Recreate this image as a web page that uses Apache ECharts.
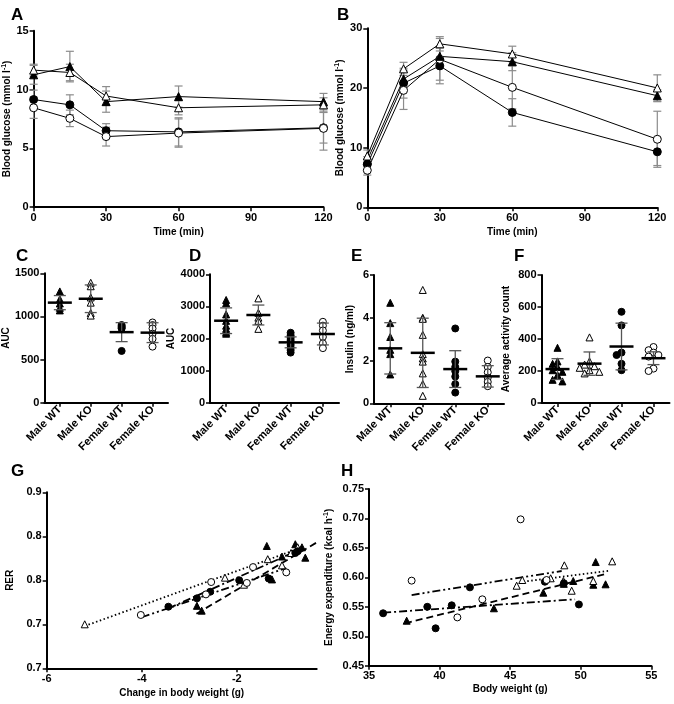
<!DOCTYPE html>
<html>
<head>
<meta charset="utf-8">
<title>Glucose, AUC, insulin, activity, RER and EE panels</title>
<script src="https://cdn.jsdelivr.net/npm/echarts@6/dist/echarts.min.js"></script>
<style>
  html, body { margin: 0; padding: 0; background: #fff; }
  #chart { width: 674px; height: 704px; }
</style>
</head>
<body>
<div id="chart"></div>
<script>
// ---- data ----
var times = [0, 15, 30, 60, 120];
var groups = ['Male WT', 'Male KO', 'Female WT', 'Female KO'];

// A: blood glucose, mean and SD
var aMaleWT = [11.25, 11.95, 8.97, 9.4, 8.97];
var aMaleWTsd = [0.8, 1.3, 0.9, 0.9, 0.7];
var aMaleKO = [11.65, 11.45, 9.45, 8.45, 8.7];
var aMaleKOsd = [0.5, 0.7, 0.8, 0.6, 0.6];
var aFemaleWT = [9.15, 8.7, 6.5, 6.4, 6.75];
var aFemaleWTsd = [0.8, 0.85, 0.6, 1.2, 1.3];
var aFemaleKO = [8.45, 7.55, 6.0, 6.3, 6.7];
var aFemaleKOsd = [0.9, 0.7, 0.8, 1.2, 1.85];

// B: blood glucose, mean and SD
var bMaleWT = [7.9, 21.5, 25.3, 24.4, 18.7];
var bMaleWTsd = [0.6, 1.5, 1.5, 1.5, 1.0];
var bMaleKO = [8.6, 23.2, 27.4, 25.7, 20.0];
var bMaleKOsd = [1.0, 1.1, 1.2, 1.3, 2.2];
var bFemaleWT = [7.2, 20.8, 23.7, 15.9, 9.3];
var bFemaleWTsd = [1.0, 2.5, 3.0, 2.3, 2.3];
var bFemaleKO = [6.2, 19.6, 24.8, 20.1, 11.4];
var bFemaleKOsd = [0.8, 3.2, 3.5, 3.6, 4.7];

// C: AUC
var cMaleWT = [1290, 1200, 1150, 1100, 1070];
var cMaleKO = [1390, 1350, 1220, 1160, 1040, 1010];
var cFemaleWT = [900, 885, 870, 860, 600];
var cFemaleKO = [930, 900, 860, 800, 740, 650];
var cMean = [1160, 1205, 818, 812];
var cSd = [82, 160, 110, 115];

// D: AUC
var dMaleWT = [3200, 3100, 2750, 2550, 2400, 2300, 2200, 2150];
var dMaleKO = [3250, 2800, 2650, 2550, 2300];
var dFemaleWT = [2180, 2100, 2020, 1950, 1880, 1800, 1720, 1640, 1560];
var dFemaleKO = [2520, 2400, 2250, 2050, 1850, 1700];
var dMean = [2554, 2732, 1880, 2140];
var dSd = [400, 310, 170, 340];

// E: insulin
var eMaleWT = [4.7, 3.75, 3.1, 2.5, 2.3, 1.35];
var eMaleKO = [5.3, 4.0, 3.95, 3.2, 2.3, 2.1, 1.95, 1.4, 0.9, 0.35];
var eFemaleWT = [3.5, 1.95, 1.7, 1.5, 1.25, 0.9, 0.5];
var eFemaleKO = [2.0, 1.7, 1.45, 1.2, 1.0, 0.8];
var eMean = [2.57, 2.36, 1.6, 1.26];
var eSd = [1.2, 1.62, 0.86, 0.5];

// F: activity
var fMaleWT = [345, 260, 245, 225, 205, 195, 175, 145, 135];
var fMaleKO = [410, 260, 240, 230, 220, 205, 195, 185];
var fFemaleWT = [570, 485, 315, 300, 245, 205];
var fFemaleKO = [350, 330, 315, 300, 290, 215, 200];
var fMean = [212, 246, 353, 280];
var fSd = [65, 73, 146, 40];

// G: RER vs change in body weight
var gMaleWT = [[-2.84, 0.771], [-2.74, 0.7655], [-1.37, 0.839], [-1.26, 0.801], [-1.05, 0.827], [-0.77, 0.841], [-0.63, 0.8375], [-0.56, 0.8257]];
var gMaleKO = [[-5.2, 0.75], [-2.25, 0.803], [-1.85, 0.795], [-1.35, 0.824], [-1.05, 0.817], [-0.86, 0.831], [-0.72, 0.8375]];
var gFemaleWT = [[-3.44, 0.770], [-2.84, 0.7795], [-2.56, 0.787], [-1.95, 0.800], [-1.33, 0.802], [-0.77, 0.831], [-0.72, 0.833]];
var gFemaleKO = [[-4.02, 0.7606], [-2.54, 0.798], [-2.65, 0.784], [-1.66, 0.815], [-1.79, 0.797], [-0.96, 0.809]];
var gFitMaleWT = [[-2.85, 0.762], [-0.32, 0.843]];
var gFitMaleKO = [[-5.2, 0.748], [-0.75, 0.835]];
var gFitFemaleWT = [[-3.44, 0.768], [-0.75, 0.833]];
var gFitFemaleKO = [[-4.0, 0.758], [-0.96, 0.814]];
var gTicksX = [-6, -4, -2];
var gTicksY = [0.7, 0.75, 0.8, 0.85, 0.9];
var gTickLabelsY = ['0.7', '0.7', '0.8', '0.8', '0.9'];

// H: energy expenditure vs body weight
var hMaleWT = [[37.67, 0.5264], [43.85, 0.5475], [47.35, 0.574], [48.8, 0.589], [49.47, 0.5938], [50.89, 0.5875], [51.06, 0.626], [51.76, 0.5882]];
var hMaleKO = [[45.46, 0.5858], [45.86, 0.5955], [47.87, 0.5984], [48.84, 0.6204], [48.77, 0.5938], [49.36, 0.5773], [50.89, 0.5938], [52.23, 0.6272]];
var hFemaleWT = [[36.0, 0.539], [39.13, 0.550], [39.72, 0.5135], [40.86, 0.5525], [42.15, 0.583], [47.46, 0.5926], [48.81, 0.590], [49.87, 0.554]];
var hFemaleKO = [[38.02, 0.5944], [41.26, 0.532], [43.03, 0.5627], [45.74, 0.6985], [47.58, 0.5955]];
var hFitMaleWT = [[37.55, 0.522], [51.76, 0.6057]];
var hFitMaleKO = [[45.93, 0.5926], [52.07, 0.6113]];
var hFitFemaleWT = [[36.0, 0.540], [49.6, 0.5627]];
var hFitFemaleKO = [[38.02, 0.570], [48.65, 0.6108]];

// ---- styling ----
var FONT = '"Liberation Sans", Arial, sans-serif';
var SYM = ['triangle', 'triangle', 'circle', 'circle'];
var FILL = ['#000', '#fff', '#000', '#fff'];
var DASH = [[7, 4], [1.5, 2.5], [8, 3, 2, 3], [8, 3, 2, 3, 2, 3]];

var grids = [
  { left: 33.5, top: 30.7, width: 290, height: 176.5 },
  { left: 367.3, top: 28.3, width: 290, height: 179 },
  { left: 40, top: 273.3, width: 128, height: 129.4 },
  { left: 210, top: 274.3, width: 129, height: 128.4 },
  { left: 374, top: 275, width: 130, height: 128.3 },
  { left: 541.5, top: 275, width: 128, height: 128 },
  { left: 46.7, top: 492.3, width: 270, height: 176 },
  { left: 369, top: 489, width: 282.3, height: 176.7 }
];

var txt = { color: '#000', fontFamily: FONT, fontWeight: 'bold', fontSize: 11 };
var nameTxt = { color: '#000', fontFamily: FONT, fontWeight: 'bold', fontSize: 10 };
var supRich = { sup: { color: '#000', fontFamily: FONT, fontWeight: 'bold', fontSize: 7, padding: [0, 0, 6, 0] } };

function plain(v) { return String(v); }

function axis(idx, o) {
  var a = {
    gridIndex: idx,
    axisLine: { show: true, onZero: false, lineStyle: { color: '#000', width: 2 } },
    axisTick: { show: true, length: 4, lineStyle: { color: '#000', width: 1.5 } },
    axisLabel: Object.assign({ margin: 5, formatter: plain }, txt),
    splitLine: { show: false },
    nameLocation: 'middle',
    nameTextStyle: Object.assign({ rich: supRich }, nameTxt)
  };
  for (var k in o) {
    if (k === 'axisLabel' || k === 'axisTick') a[k] = Object.assign({}, a[k], o[k]);
    else a[k] = o[k];
  }
  return a;
}

function pairs(xs, ys) { return xs.map(function (x, i) { return [x, ys[i]]; }); }

function errorBars(idx, means, sds) {
  return {
    type: 'custom', xAxisIndex: idx, yAxisIndex: idx, z: 1, silent: true,
    encode: { x: 0, y: 1 },
    data: times.map(function (t, i) { return [t, means[i], sds[i]]; }),
    renderItem: function (p, api) {
      var x = api.value(0), m = api.value(1), s = api.value(2);
      var hi = api.coord([x, m + s]), lo = api.coord([x, m - s]);
      var st = { stroke: '#8c8c8c', lineWidth: 1.2 };
      return { type: 'group', children: [
        { type: 'line', shape: { x1: hi[0], y1: hi[1], x2: lo[0], y2: lo[1] }, style: st },
        { type: 'line', shape: { x1: hi[0] - 4, y1: hi[1], x2: hi[0] + 4, y2: hi[1] }, style: st },
        { type: 'line', shape: { x1: lo[0] - 4, y1: lo[1], x2: lo[0] + 4, y2: lo[1] }, style: st }
      ] };
    }
  };
}

function curve(idx, g, means) {
  return {
    type: 'line', xAxisIndex: idx, yAxisIndex: idx, z: 3,
    data: pairs(times, means),
    symbol: SYM[g], symbolSize: 8,
    lineStyle: { color: '#000', width: 1 },
    itemStyle: { color: FILL[g], borderColor: '#000', borderWidth: 1 }
  };
}

// spread overlapping points sideways, like the dot plot in F
function swarm(vals, pxPerUnit, size) {
  var placed = [];
  var slots = [0, -1, 1, -2, 2, -3, 3];
  return vals.map(function (v) {
    for (var k = 0; k < slots.length; k++) {
      var dx = slots[k] * size * 0.7;
      var clash = placed.some(function (p) {
        var ddx = p.dx - dx, ddy = (p.v - v) * pxPerUnit;
        return Math.sqrt(ddx * ddx + ddy * ddy) < size * 0.75;
      });
      if (!clash) { placed.push({ v: v, dx: dx }); return dx; }
    }
    return 0;
  });
}

function dots(idx, sets, pxPerUnit) {
  return sets.map(function (vals, g) {
    var offs = pxPerUnit ? swarm(vals, pxPerUnit, 7) : vals.map(function () { return 0; });
    return {
      type: 'scatter', xAxisIndex: idx, yAxisIndex: idx, z: 3,
      symbol: SYM[g], symbolSize: 7,
      itemStyle: { color: FILL[g], borderColor: '#000', borderWidth: 1, opacity: 1 },
      data: vals.map(function (v, i) { return { value: [g, v], symbolOffset: [offs[i], 0] }; })
    };
  });
}

function meanSd(idx, means, sds) {
  return {
    type: 'custom', xAxisIndex: idx, yAxisIndex: idx, z: 4, silent: true,
    encode: { x: 0, y: 1 },
    data: means.map(function (m, g) { return [g, m, sds[g]]; }),
    renderItem: function (p, api) {
      var g = api.value(0), m = api.value(1), s = api.value(2);
      var c = api.coord([g, m]), hi = api.coord([g, m + s]), lo = api.coord([g, m - s]);
      var sd = { stroke: '#555', lineWidth: 1.3 };
      return { type: 'group', children: [
        { type: 'line', shape: { x1: hi[0], y1: hi[1], x2: lo[0], y2: lo[1] }, style: sd },
        { type: 'line', shape: { x1: hi[0] - 6, y1: hi[1], x2: hi[0] + 6, y2: hi[1] }, style: sd },
        { type: 'line', shape: { x1: lo[0] - 6, y1: lo[1], x2: lo[0] + 6, y2: lo[1] }, style: sd },
        { type: 'line', shape: { x1: c[0] - 12, y1: c[1], x2: c[0] + 12, y2: c[1] }, style: { stroke: '#000', lineWidth: 2.5 } }
      ] };
    }
  };
}

function points(idx, g, data) {
  return {
    type: 'scatter', xAxisIndex: idx, yAxisIndex: idx, z: 3,
    symbol: SYM[g], symbolSize: 7,
    itemStyle: { color: FILL[g], borderColor: '#000', borderWidth: 1, opacity: 1 },
    data: data
  };
}

function fit(idx, g, data) {
  return {
    type: 'line', xAxisIndex: idx, yAxisIndex: idx, z: 2, silent: true,
    data: data, symbol: 'none',
    lineStyle: { color: '#000', width: 1.8, type: DASH[g] }
  };
}

var catAxis = { type: 'category', data: groups, axisTick: { alignWithLabel: true },
  axisLabel: { rotate: 45, interval: 0, margin: 5, formatter: null } };

function titleAt(t, x, y) {
  return { text: t, left: x, top: y, textStyle: { color: '#000', fontFamily: FONT, fontWeight: 'bold', fontSize: 17 } };
}

var option = {
  animation: false,
  backgroundColor: '#fff',
  title: [
    titleAt('A', 6, 2), titleAt('B', 332, 2),
    titleAt('C', 11, 243), titleAt('D', 184, 243),
    titleAt('E', 346, 243), titleAt('F', 509, 243),
    titleAt('G', 6, 458), titleAt('H', 336, 458)
  ],
  grid: grids,
  xAxis: [
    axis(0, { type: 'value', min: 0, max: 120, interval: 30, name: 'Time (min)', nameGap: 20 }),
    axis(1, { type: 'value', min: 0, max: 120, interval: 30, name: 'Time (min)', nameGap: 20 }),
    axis(2, catAxis), axis(3, catAxis), axis(4, catAxis), axis(5, catAxis),
    axis(6, { type: 'value', min: -6, max: -0.32, name: 'Change in body weight (g)', nameGap: 20,
      axisTick: { customValues: gTicksX }, axisLabel: { customValues: gTicksX } }),
    axis(7, { type: 'value', min: 35, max: 55, interval: 5, name: 'Body weight (g)', nameGap: 19 })
  ],
  yAxis: [
    axis(0, { type: 'value', min: 0, max: 15, interval: 5, name: 'Blood glucose (mmol l{sup|-1})', nameGap: 19 }),
    axis(1, { type: 'value', min: 0, max: 30, interval: 10, name: 'Blood glucose (mmol l{sup|-1})', nameGap: 21 }),
    axis(2, { type: 'value', min: 0, max: 1500, interval: 500, name: 'AUC', nameGap: 27 }),
    axis(3, { type: 'value', min: 0, max: 4000, interval: 1000, name: 'AUC', nameGap: 27 }),
    axis(4, { type: 'value', min: 0, max: 6, interval: 2, name: 'Insulin (ng/ml)', nameGap: 19 }),
    axis(5, { type: 'value', min: 0, max: 800, interval: 200, name: 'Average activity count', nameGap: 30 }),
    axis(6, { type: 'value', min: 0.7, max: 0.9, name: 'RER', nameGap: 31,
      axisTick: { customValues: gTicksY },
      axisLabel: { customValues: gTicksY, formatter: function (v) {
        for (var i = 0; i < gTicksY.length; i++) if (Math.abs(gTicksY[i] - v) < 1e-6) return gTickLabelsY[i];
        return '';
      } } }),
    axis(7, { type: 'value', min: 0.45, max: 0.75, interval: 0.05, name: 'Energy expenditure (kcal h{sup|-1})', nameGap: 33,
      axisLabel: { formatter: function (v) { return v.toFixed(2); } } })
  ],
  series: [].concat(
    errorBars(0, aMaleWT, aMaleWTsd), errorBars(0, aMaleKO, aMaleKOsd),
    errorBars(0, aFemaleWT, aFemaleWTsd), errorBars(0, aFemaleKO, aFemaleKOsd),
    curve(0, 2, aFemaleWT), curve(0, 3, aFemaleKO), curve(0, 0, aMaleWT), curve(0, 1, aMaleKO),
    errorBars(1, bMaleWT, bMaleWTsd), errorBars(1, bMaleKO, bMaleKOsd),
    errorBars(1, bFemaleWT, bFemaleWTsd), errorBars(1, bFemaleKO, bFemaleKOsd),
    curve(1, 2, bFemaleWT), curve(1, 3, bFemaleKO), curve(1, 0, bMaleWT), curve(1, 1, bMaleKO),
    dots(2, [cMaleWT, cMaleKO, cFemaleWT, cFemaleKO]), meanSd(2, cMean, cSd),
    dots(3, [dMaleWT, dMaleKO, dFemaleWT, dFemaleKO]), meanSd(3, dMean, dSd),
    dots(4, [eMaleWT, eMaleKO, eFemaleWT, eFemaleKO]), meanSd(4, eMean, eSd),
    dots(5, [fMaleWT, fMaleKO, fFemaleWT, fFemaleKO], 128 / 800), meanSd(5, fMean, fSd),
    fit(6, 0, gFitMaleWT), fit(6, 1, gFitMaleKO), fit(6, 2, gFitFemaleWT), fit(6, 3, gFitFemaleKO),
    points(6, 0, gMaleWT), points(6, 1, gMaleKO), points(6, 2, gFemaleWT), points(6, 3, gFemaleKO),
    fit(7, 0, hFitMaleWT), fit(7, 1, hFitMaleKO), fit(7, 2, hFitFemaleWT), fit(7, 3, hFitFemaleKO),
    points(7, 0, hMaleWT), points(7, 1, hMaleKO), points(7, 2, hFemaleWT), points(7, 3, hFemaleKO)
  )
};

var chart = echarts.init(document.getElementById('chart'));
chart.setOption(option);
</script>
</body>
</html>
